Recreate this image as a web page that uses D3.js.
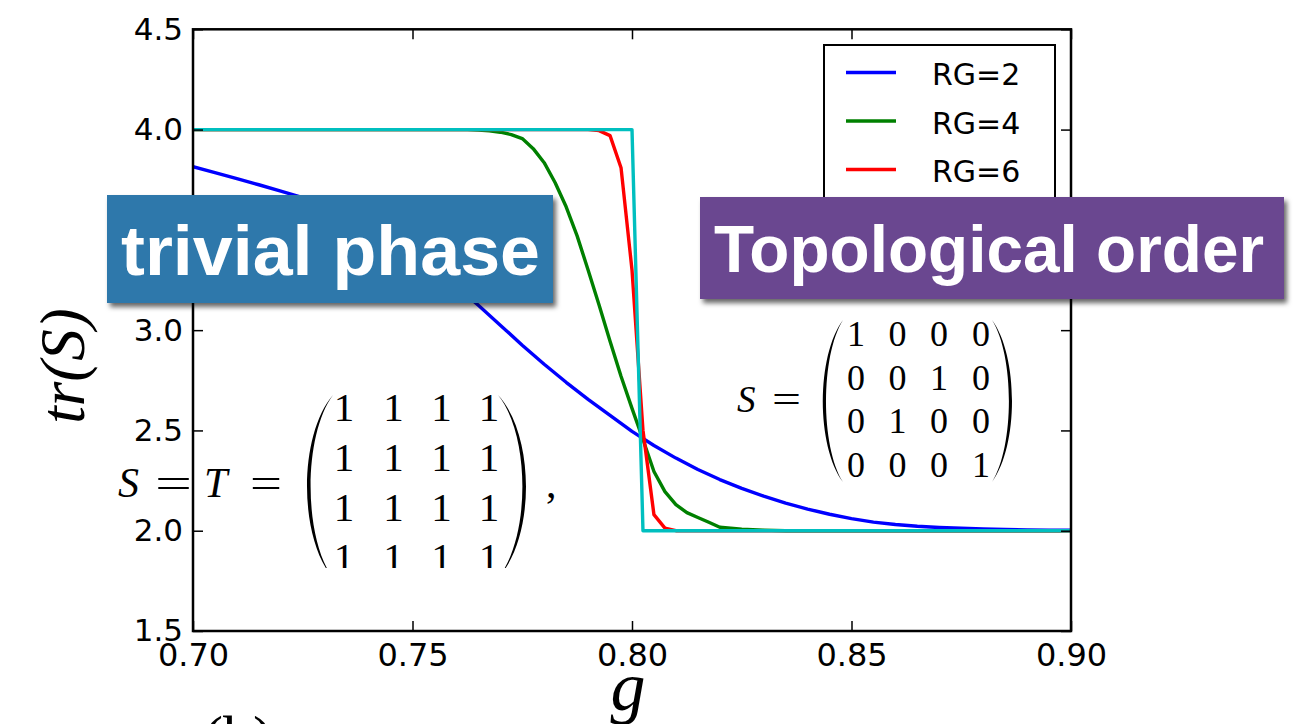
<!DOCTYPE html>
<html>
<head>
<meta charset="utf-8">
<script src="https://cdn.jsdelivr.net/npm/d3@7"></script>
<style>
  html, body { margin: 0; padding: 0; background: #ffffff; }
  svg { display: block; }
</style>
</head>
<body>
<svg id="chart" width="1297" height="724"></svg>
<script>
// ---- data -------------------------------------------------------------
const gTicks = [0.70, 0.75, 0.80, 0.85, 0.90];
const trTicks = [1.5, 2.0, 2.5, 3.0, 3.5, 4.0, 4.5];

const seriesNames = ["RG=2", "RG=4", "RG=6", "RG=8"];
const seriesColors = ["#0000ff", "#008000", "#ff0000", "#00bfbf"];

const gRG2 = [0.700, 0.705, 0.710, 0.715, 0.720, 0.725, 0.730, 0.735, 0.740, 0.745,
              0.750, 0.755, 0.760, 0.765, 0.770, 0.775, 0.780, 0.785, 0.790, 0.795,
              0.800, 0.805, 0.810, 0.815, 0.820, 0.825, 0.830, 0.835, 0.840, 0.845,
              0.850, 0.855, 0.860, 0.865, 0.870, 0.875, 0.880, 0.885, 0.890, 0.895, 0.900];
const trRG2 = [3.815, 3.785, 3.755, 3.725, 3.693, 3.661, 3.621, 3.574, 3.518, 3.455,
               3.384, 3.305, 3.219, 3.124, 3.025, 2.925, 2.830, 2.740, 2.655, 2.575,
               2.495, 2.425, 2.362, 2.305, 2.255, 2.211, 2.172, 2.138, 2.108, 2.082,
               2.060, 2.043, 2.031, 2.022, 2.016, 2.012, 2.009, 2.006, 2.004, 2.003, 2.002];

const gRG4 = [0.700, 0.7625, 0.765, 0.7675, 0.770, 0.7725, 0.775, 0.7775, 0.780, 0.7825,
              0.785, 0.7875, 0.790, 0.7925, 0.795, 0.7975, 0.800, 0.8025, 0.805, 0.8075,
              0.810, 0.8125, 0.815, 0.8175, 0.820, 0.8225, 0.825, 0.830, 0.835, 0.900];
const trRG4 = [4.000, 4.000, 3.998, 3.994, 3.987, 3.975, 3.955, 3.905, 3.835, 3.735,
               3.615, 3.470, 3.300, 3.125, 2.945, 2.770, 2.610, 2.455, 2.295, 2.195,
               2.130, 2.090, 2.066, 2.042, 2.017, 2.012, 2.008, 2.003, 2.000, 2.000];

const gRG6 = [0.700, 0.790, 0.7925, 0.795, 0.7975, 0.800, 0.8025, 0.805, 0.8075, 0.810, 0.900];
const trRG6 = [4.000, 4.000, 3.995, 3.970, 3.810, 3.300, 2.500, 2.080, 2.013, 2.000, 2.000];

const gRG8 = [0.700, 0.800, 0.8025, 0.900];
const trRG8 = [4.000, 4.000, 2.000, 2.000];

const matT = [[1, 1, 1, 1], [1, 1, 1, 1], [1, 1, 1, 1], [1, 1, 1, 1]];
const matS = [[1, 0, 0, 0], [0, 0, 1, 0], [0, 1, 0, 0], [0, 0, 0, 1]];

const phaseLeft = "trivial phase";
const phaseRight = "Topological order";

// ---- layout -----------------------------------------------------------
const svg = d3.select("#chart");
const plot = { left: 193, right: 1071, top: 29.3, bottom: 631 };

const x = d3.scaleLinear().domain([0.70, 0.90]).range([plot.left, plot.right]);
const y = d3.scaleLinear().domain([1.5, 4.5]).range([plot.bottom, plot.top]);

const tickFont = "'DejaVu Sans', sans-serif";
const mathFont = "'Liberation Serif', 'Times New Roman', serif";

const defs = svg.append("defs");
defs.append("clipPath").attr("id", "plotClip")
  .append("rect")
  .attr("x", plot.left).attr("y", plot.top)
  .attr("width", plot.right - plot.left).attr("height", plot.bottom - plot.top);
defs.append("clipPath").attr("id", "matClip")
  .append("rect").attr("x", 0).attr("y", 300).attr("width", 700).attr("height", 268);
const shadow = defs.append("filter").attr("id", "boxShadow")
  .attr("x", "-10%").attr("y", "-20%").attr("width", "125%").attr("height", "150%");
shadow.append("feDropShadow")
  .attr("dx", 3).attr("dy", 4).attr("stdDeviation", 2.5)
  .attr("flood-color", "#000").attr("flood-opacity", 0.6);

// ---- curves -----------------------------------------------------------
const seriesG = [gRG2, gRG4, gRG6, gRG8];
const seriesTr = [trRG2, trRG4, trRG6, trRG8];
const line = d3.line().x(d => x(d[0])).y(d => y(d[1]));

const curves = svg.append("g").attr("clip-path", "url(#plotClip)");
seriesG.forEach((gs, i) => {
  curves.append("path")
    .datum(gs.map((g, k) => [g, seriesTr[i][k]]))
    .attr("d", line)
    .attr("fill", "none")
    .attr("stroke", seriesColors[i])
    .attr("stroke-width", 3.4)
    .attr("stroke-linejoin", "round");
});

// ---- axes (ticks point inward on all four sides) ----------------------
function styleAxis(g) {
  g.select(".domain").remove();
  g.selectAll(".tick line").attr("stroke", "#000").attr("stroke-width", 1.5);
  g.selectAll(".tick text").attr("fill", "#000").attr("font-family", tickFont);
}

svg.append("g").attr("transform", `translate(0,${plot.bottom})`)
  .call(d3.axisBottom(x).tickValues(gTicks).tickFormat(d3.format(".2f"))
    .tickSizeInner(-10).tickSizeOuter(0).tickPadding(12))
  .call(styleAxis)
  .call(g => g.selectAll(".tick text").attr("font-size", 32));

svg.append("g").attr("transform", `translate(0,${plot.top})`)
  .call(d3.axisTop(x).tickValues(gTicks).tickFormat("")
    .tickSizeInner(-10).tickSizeOuter(0))
  .call(styleAxis);

svg.append("g").attr("transform", `translate(${plot.left},0)`)
  .call(d3.axisLeft(y).tickValues(trTicks).tickFormat(d3.format(".1f"))
    .tickSizeInner(-10).tickSizeOuter(0).tickPadding(10))
  .call(styleAxis)
  .call(g => g.selectAll(".tick text").attr("font-size", 31));

svg.append("g").attr("transform", `translate(${plot.right},0)`)
  .call(d3.axisRight(y).tickValues(trTicks).tickFormat("")
    .tickSizeInner(-10).tickSizeOuter(0))
  .call(styleAxis);

svg.append("rect")
  .attr("x", plot.left).attr("y", plot.top)
  .attr("width", plot.right - plot.left).attr("height", plot.bottom - plot.top)
  .attr("fill", "none").attr("stroke", "#000").attr("stroke-width", 2.5);

// axis titles
svg.append("text")
  .attr("transform", "translate(84,366) rotate(-90)")
  .attr("text-anchor", "middle")
  .attr("font-family", mathFont).attr("font-style", "italic")
  .attr("font-size", 63)
  .text("tr(S)");

svg.append("text")
  .attr("x", 628).attr("y", 710)
  .attr("text-anchor", "middle")
  .attr("font-family", mathFont).attr("font-style", "italic")
  .attr("font-size", 70)
  .text("g");

svg.append("text")
  .attr("x", 203).attr("y", 757)
  .attr("font-family", mathFont)
  .attr("font-size", 60)
  .text("(b)");

// ---- legend -----------------------------------------------------------
const legend = svg.append("g");
legend.append("rect")
  .attr("x", 824).attr("y", 45).attr("width", 231).attr("height", 200)
  .attr("fill", "#fff").attr("stroke", "#000").attr("stroke-width", 2);
seriesNames.forEach((name, i) => {
  const ly = 72.5 + i * 48.5;
  legend.append("line")
    .attr("x1", 846).attr("x2", 896).attr("y1", ly).attr("y2", ly)
    .attr("stroke", seriesColors[i]).attr("stroke-width", 3.4);
  legend.append("text")
    .attr("x", 932).attr("y", ly + 12.5)
    .attr("font-family", tickFont).attr("font-size", 30)
    .text(name);
});

// ---- matrix annotations ----------------------------------------------
function paren(tipX, bulgeX, top, bottom, thick) {
  const h = bottom - top;
  const cx = tipX + (bulgeX - tipX) / 0.75;
  const cxIn = cx + (bulgeX < tipX ? 1 : -1) * thick / 0.75;
  return `M${tipX},${top} C${cx},${top + 0.22 * h} ${cx},${bottom - 0.22 * h} ${tipX},${bottom}` +
         ` C${cxIn},${bottom - 0.22 * h} ${cxIn},${top + 0.22 * h} ${tipX},${top} Z`;
}

function drawMatrix(g, mat, colX, rowY, fontSize) {
  mat.forEach((row, r) => row.forEach((v, c) => {
    g.append("text")
      .attr("x", colX[c]).attr("y", rowY[r])
      .attr("text-anchor", "middle")
      .attr("font-family", mathFont).attr("font-size", fontSize)
      .text(v);
  }));
}

// S = T = (all ones),
const left = svg.append("g").attr("clip-path", "url(#matClip)");
left.append("text").attr("x", 118).attr("y", 497)
  .attr("font-family", mathFont).attr("font-style", "italic").attr("font-size", 42).text("S");
left.append("text").attr("x", 155).attr("y", 497)
  .attr("font-family", mathFont).attr("font-size", 42)
  .attr("textLength", 37).attr("lengthAdjust", "spacingAndGlyphs").text("=");
left.append("text").attr("x", 204).attr("y", 497)
  .attr("font-family", mathFont).attr("font-style", "italic").attr("font-size", 42).text("T");
left.append("text").attr("x", 250).attr("y", 497)
  .attr("font-family", mathFont).attr("font-size", 42)
  .attr("textLength", 32).attr("lengthAdjust", "spacingAndGlyphs").text("=");
left.append("path").attr("d", paren(333, 307, 395, 578, 3.6)).attr("fill", "#000");
left.append("path").attr("d", paren(498, 526, 395, 578, 3.6)).attr("fill", "#000");
drawMatrix(left, matT, [344, 393.5, 441.5, 489], [421, 471, 521, 571], 41);
left.append("text").attr("x", 546).attr("y", 497)
  .attr("font-family", mathFont).attr("font-size", 42).text(",");

// S = permutation matrix
const right = svg.append("g");
right.append("text").attr("x", 737).attr("y", 412)
  .attr("font-family", mathFont).attr("font-style", "italic").attr("font-size", 37).text("S");
right.append("text").attr("x", 772).attr("y", 412)
  .attr("font-family", mathFont).attr("font-size", 37)
  .attr("textLength", 29).attr("lengthAdjust", "spacingAndGlyphs").text("=");
right.append("path").attr("d", paren(843, 823, 320, 482, 3.1)).attr("fill", "#000");
right.append("path").attr("d", paren(992, 1012, 320, 482, 3.1)).attr("fill", "#000");
drawMatrix(right, matS, [856, 897.5, 939, 981], [346, 389.5, 433, 476.5], 36);

// ---- phase labels -----------------------------------------------------
function phaseLabel(text, bx, by, bw, bh, fill, tx, ty, tw, fs) {
  const g = svg.append("g");
  g.append("rect").attr("x", bx).attr("y", by).attr("width", bw).attr("height", bh)
    .attr("fill", fill).attr("filter", "url(#boxShadow)");
  g.append("text").attr("x", tx).attr("y", ty)
    .attr("font-family", "'Liberation Sans', Arial, Helvetica, sans-serif")
    .attr("font-weight", "bold").attr("font-size", fs).attr("fill", "#fff")
    .attr("textLength", tw).attr("lengthAdjust", "spacingAndGlyphs")
    .text(text);
}
phaseLabel(phaseLeft, 107, 195, 446, 108, "#2e78ab", 121, 275, 419, 70);
phaseLabel(phaseRight, 700, 197, 584, 102, "#6b4790", 714, 272, 550, 66);
</script>
</body>
</html>
